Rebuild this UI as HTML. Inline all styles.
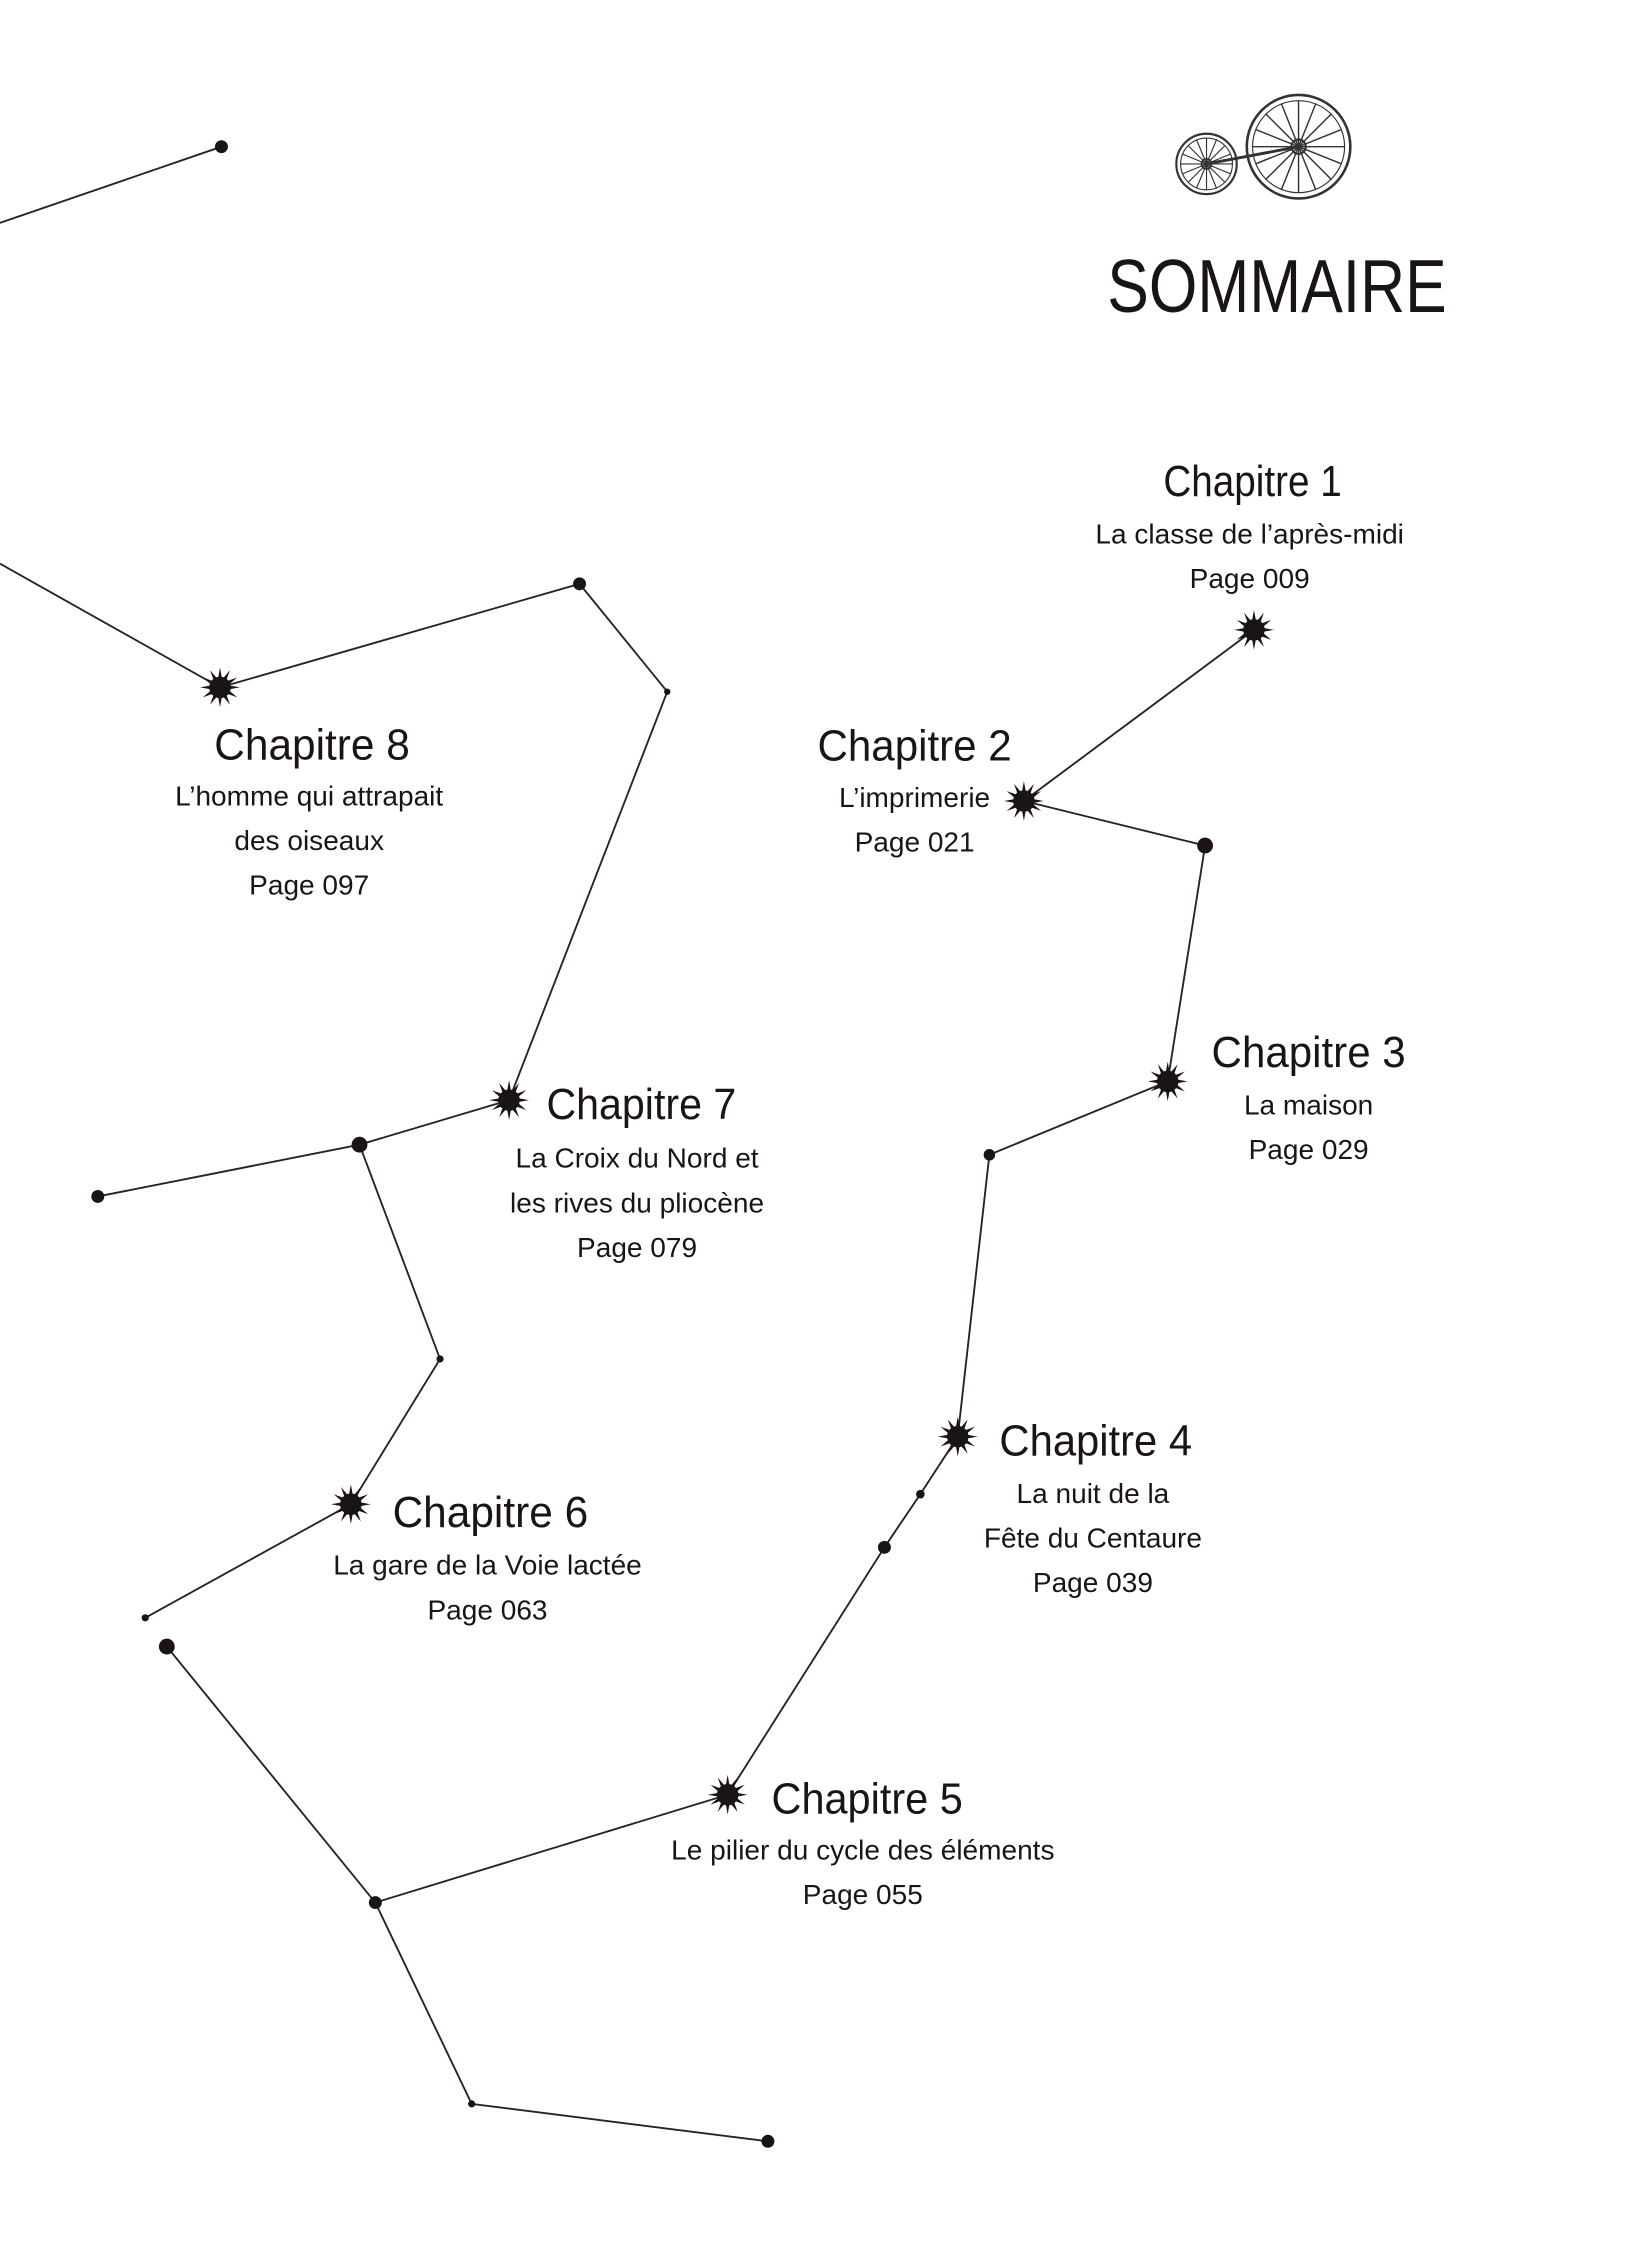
<!DOCTYPE html>
<html><head><meta charset="utf-8"><style>
html,body{margin:0;padding:0;background:#fff;}
svg{display:block;}
text{font-family:"Liberation Sans",sans-serif;fill:#1a1414;text-anchor:middle;}
.t{font-size:30px;}
.s{font-size:19.5px;}
</style></head><body>
<svg width="1625" height="2250" viewBox="0 0 1130 1564.6" preserveAspectRatio="none" xmlns="http://www.w3.org/2000/svg">
<defs>
<g id="st" transform="scale(1.15)"><path d="M12,0L4.83,1.29L10.39,6L3.54,3.54L6,10.39L1.29,4.83L0,12L-1.29,4.83L-6,10.39L-3.54,3.54L-10.39,6L-4.83,1.29L-12,0L-4.83,-1.29L-10.39,-6L-3.54,-3.54L-6,-10.39L-1.29,-4.83L0,-12L1.29,-4.83L6,-10.39L3.54,-3.54L10.39,-6L4.83,-1.29Z" fill="#1a1414"/><circle r="6.5" fill="#1a1414"/></g>
</defs>
<g stroke="#2a2222" stroke-width="1.3" fill="none">
<polyline points="0,155 154,102"/>
<polyline points="0,392 153,478 403,406 464,481 354,765 250,796 68,832"/>
<polyline points="250,796 306,945 244,1046 101,1125"/>
<polyline points="116,1145 261,1323 506,1248 615,1076 640,1039 666,999 688,803 812,752 838,588 712,557 872,438"/>
<polyline points="261,1323 328,1463 534,1489"/>
</g>
<g fill="#1a1414">
<circle cx="154" cy="102" r="4.5"/>
<circle cx="403" cy="406" r="4.5"/>
<circle cx="464" cy="481" r="2.2"/>
<circle cx="250" cy="796" r="5.5"/>
<circle cx="68" cy="832" r="4.5"/>
<circle cx="306" cy="945" r="2.5"/>
<circle cx="101" cy="1125" r="2.5"/>
<circle cx="116" cy="1145" r="5.5"/>
<circle cx="261" cy="1323" r="4.5"/>
<circle cx="328" cy="1463" r="2.5"/>
<circle cx="534" cy="1489" r="4.5"/>
<circle cx="615" cy="1076" r="4.5"/>
<circle cx="640" cy="1039" r="3"/>
<circle cx="688" cy="803" r="4"/>
<circle cx="838" cy="588" r="5.5"/>
</g>
<use href="#st" x="153" y="478"/>
<use href="#st" x="354" y="765"/>
<use href="#st" x="244" y="1046"/>
<use href="#st" x="506" y="1248"/>
<use href="#st" x="666" y="999"/>
<use href="#st" x="812" y="752"/>
<use href="#st" x="712" y="557"/>
<use href="#st" x="872" y="438"/>

<g fill="none" stroke="#333">
<circle cx="839" cy="114" r="21" stroke-width="1.5"/>
<circle cx="839" cy="114" r="18" stroke-width="0.8"/>
<circle cx="903" cy="102" r="36" stroke-width="1.8"/>
<circle cx="903" cy="102" r="32" stroke-width="0.8"/>
<g stroke-width="0.8">
<line x1="839" y1="96" x2="839" y2="132"/><line x1="821" y1="114" x2="857" y2="114"/>
<line x1="826" y1="101" x2="852" y2="127"/><line x1="826" y1="127" x2="852" y2="101"/>
<line x1="832" y1="97" x2="846" y2="131"/><line x1="846" y1="97" x2="832" y2="131"/>
<line x1="822" y1="107" x2="856" y2="121"/><line x1="822" y1="121" x2="856" y2="107"/>
</g>
<g stroke-width="1">
<line x1="903" y1="70" x2="903" y2="134"/><line x1="871" y1="102" x2="935" y2="102"/>
<line x1="880" y1="79" x2="926" y2="125"/><line x1="880" y1="125" x2="926" y2="79"/>
<line x1="891" y1="72" x2="915" y2="132"/><line x1="915" y1="72" x2="891" y2="132"/>
<line x1="873" y1="90" x2="933" y2="114"/><line x1="873" y1="114" x2="933" y2="90"/>
</g>
<line x1="839" y1="114" x2="903" y2="102" stroke-width="2"/>
<circle cx="903" cy="102" r="5" stroke-width="1.5"/>
<circle cx="839" cy="114" r="3.5" stroke-width="1.2"/>
</g>

<text x="888" y="217" font-size="52" textLength="236" lengthAdjust="spacingAndGlyphs">SOMMAIRE</text>

<text class="t" x="871" y="345" textLength="124" lengthAdjust="spacingAndGlyphs">Chapitre 1</text>
<text class="s" x="869" y="378">La classe de l’après-midi</text>
<text class="s" x="869" y="409">Page 009</text>

<text class="t" x="636" y="529" textLength="135" lengthAdjust="spacingAndGlyphs">Chapitre 2</text>
<text class="s" x="636" y="561">L’imprimerie</text>
<text class="s" x="636" y="592">Page 021</text>

<text class="t" x="910" y="742" textLength="135" lengthAdjust="spacingAndGlyphs">Chapitre 3</text>
<text class="s" x="910" y="775">La maison</text>
<text class="s" x="910" y="806">Page 029</text>

<text class="t" x="762" y="1012" textLength="134" lengthAdjust="spacingAndGlyphs">Chapitre 4</text>
<text class="s" x="760" y="1045">La nuit de la</text>
<text class="s" x="760" y="1076">Fête du Centaure</text>
<text class="s" x="760" y="1107">Page 039</text>

<text class="t" x="603" y="1261" textLength="133" lengthAdjust="spacingAndGlyphs">Chapitre 5</text>
<text class="s" x="600" y="1293">Le pilier du cycle des éléments</text>
<text class="s" x="600" y="1324">Page 055</text>

<text class="t" x="341" y="1062" textLength="136" lengthAdjust="spacingAndGlyphs">Chapitre 6</text>
<text class="s" x="339" y="1095">La gare de la Voie lactée</text>
<text class="s" x="339" y="1126">Page 063</text>

<text class="t" x="446" y="778" textLength="132" lengthAdjust="spacingAndGlyphs">Chapitre 7</text>
<text class="s" x="443" y="812">La Croix du Nord et</text>
<text class="s" x="443" y="843">les rives du pliocène</text>
<text class="s" x="443" y="874">Page 079</text>

<text class="t" x="217" y="528" textLength="136" lengthAdjust="spacingAndGlyphs">Chapitre 8</text>
<text class="s" x="215" y="560">L’homme qui attrapait</text>
<text class="s" x="215" y="591">des oiseaux</text>
<text class="s" x="215" y="622">Page 097</text>
</svg>
</body></html>
